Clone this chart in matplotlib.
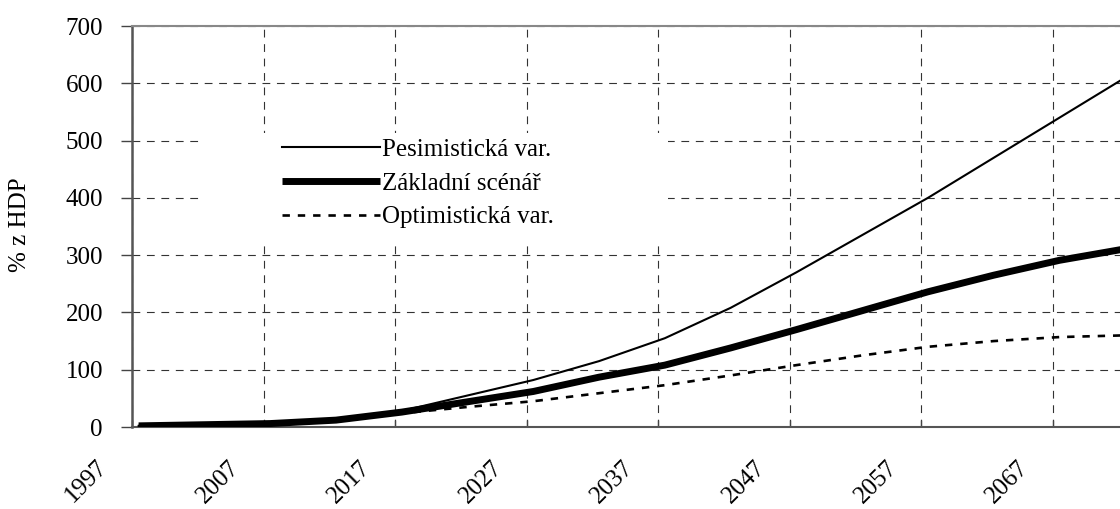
import matplotlib.pyplot as plt
from matplotlib.patches import Rectangle
from matplotlib.transforms import ScaledTranslation

plt.rcParams['font.family'] = ['Liberation Serif', 'DejaVu Serif']

# values (% of GDP)
years = [1997, 2002, 2007, 2012, 2017, 2022, 2027, 2032, 2037, 2042,
         2047, 2052, 2057, 2062, 2067, 2072]
pesimisticka = [2, 4, 6, 13, 28, 55, 82, 115, 155, 208,
                270, 335, 400, 470, 540, 610]
zakladni = [2, 4, 6, 12, 26, 44, 62, 87, 108, 138,
            170, 203, 236, 265, 291, 311]
optimisticka = [2, 4, 6, 12, 24, 35, 45, 59, 73, 90,
                108, 125, 140, 150, 157, 160]

y_ticks = [0, 100, 200, 300, 400, 500, 600, 700]
x_tick_labels = ['1997', '2007', '2017', '2027', '2037', '2047', '2057', '2067']

fig = plt.figure(figsize=(11.2, 5.09), dpi=100)
ax = fig.add_axes([0.1179, 0.1611, 0.8821, 0.7878])

ax.plot(years, pesimisticka, color='black', lw=1.5, label='Pesimistická var.', zorder=3)
ax.plot(years, zakladni, color='black', lw=5, solid_capstyle='butt',
        label='Základní scénář', zorder=4)
ax.plot(years, optimisticka, color='black', lw=1.9, linestyle=(0, (2.8, 3)),
        label='Optimistická var.', zorder=3)

# category axis: points at category centres, grid between categories
ax.set_xlim(1996.5, 2071.6)
ax.set_ylim(0, 700)
ax.set_xticks([1996.5 + 10 * i for i in range(len(x_tick_labels))])
ax.set_xticklabels(x_tick_labels, rotation=45, ha='right', va='top')
ax.set_yticks(y_ticks)

ax.set_axisbelow(True)
ax.grid(True, color='#333333', lw=0.8, linestyle=(0, (7, 6)))

ax.tick_params(axis='y', direction='out', length=8, width=1, color='#444444',
               pad=13, labelsize=18)
ax.tick_params(axis='x', direction='in', length=5, width=1, color='#444444',
               pad=21, labelsize=18)
for lab in ax.get_xticklabels():
    lab.set_transform(lab.get_transform() + ScaledTranslation(-0.2, 0, fig.dpi_scale_trans))

ax.spines['right'].set_visible(False)
ax.spines['left'].set_color('#555555')
ax.spines['left'].set_linewidth(1.8)
ax.spines['bottom'].set_color('#555555')
ax.spines['bottom'].set_linewidth(1.5)
ax.spines['top'].set_color('#888888')
ax.spines['top'].set_linewidth(1.5)

# white area behind the legend hides the grid
ax.add_patch(Rectangle((0.0709, 0.4613), 0.4716, 0.2719, transform=ax.transAxes,
                       facecolor='white', edgecolor='none', zorder=1))
ax.legend(loc='upper left', bbox_to_anchor=(0.1518, 0.72), frameon=False,
          fontsize=18, handlelength=3.9, handletextpad=0.1, borderpad=0,
          borderaxespad=0, labelspacing=0.45)

fig.text(20 / 1120, 1 - 225 / 509, '% z HDP', rotation=90, ha='center',
         va='center', fontsize=18)

fig.savefig('out.png', dpi=100)
